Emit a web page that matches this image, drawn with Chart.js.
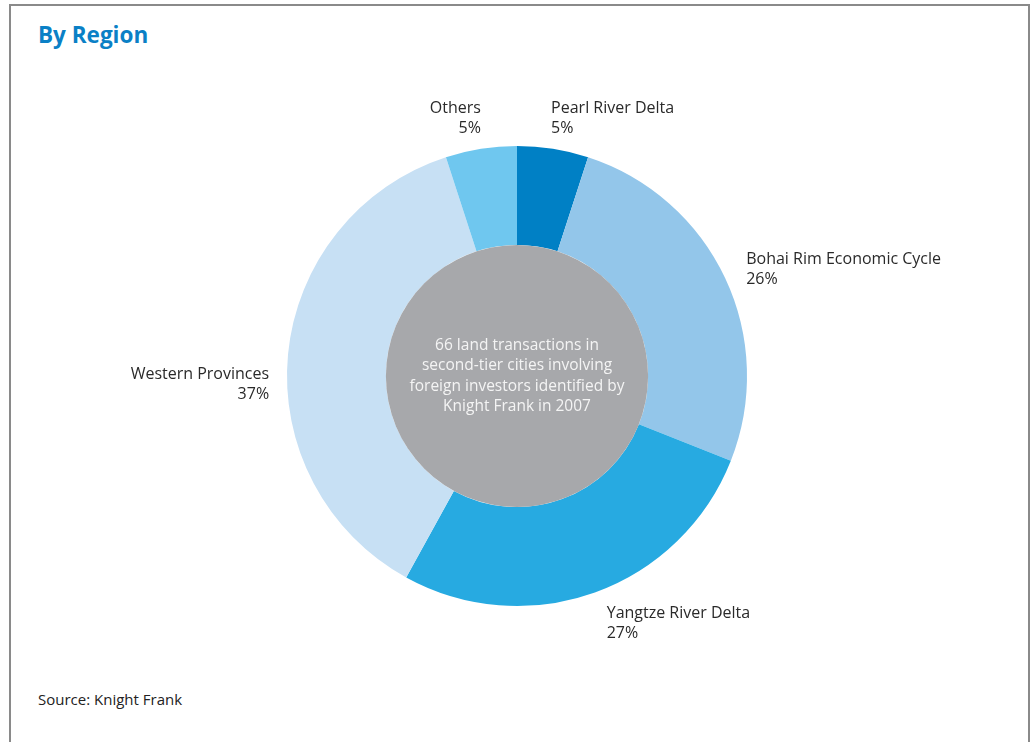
<!DOCTYPE html>
<html>
<head>
<meta charset="utf-8">
<script src="https://cdn.jsdelivr.net/npm/chart.js@4"></script>
<style>
  body { margin: 0; background: #fff; overflow: hidden; }
  #wrap { position: relative; width: 1036px; height: 742px; }
  #frame { position: absolute; left: 9px; top: 4px; width: 1017px; height: 760px;
    border: 2px solid #8a8a8a; border-bottom: none; }
  #title { position: absolute; left: 38px; top: 19px; font: bold 22.5px "Open Sans", sans-serif;
    color: #0a80c6; }
  #source { position: absolute; left: 38px; top: 689px; font: 15px "Open Sans", sans-serif; color: #222; }
  canvas { position: absolute; left: 0; top: 0; }
</style>
</head>
<body>
<div id="wrap">
  <div id="frame"></div>
  <div id="title">By Region</div>
  <div id="source">Source: Knight Frank</div>
  <canvas id="pie" width="1036" height="742"></canvas>
</div>
<script>
let regions = ["Pearl River Delta", "Bohai Rim Economic Cycle", "Yangtze River Delta", "Western Provinces", "Others"];
let shares = [5, 26, 27, 37, 5];
let colours = ["#0080c5", "#93c6ea", "#27aae1", "#c7e0f4", "#6fc7ef"];
let centreText = ["66 land transactions in", "second-tier cities involving", "foreign investors identified by", "Knight Frank in 2007"];

// label nudges (dx, dy) from the slice's outer mid point
let nudge = [[-5, 0], [3, 0], [5, 0], [1, 32], [3, 0]];

let labelPlugin = {
  id: "labels",
  afterDatasetsDraw(chart) {
    let ctx = chart.ctx;
    let arcs = chart.getDatasetMeta(0).data;
    let first = arcs[0];
    // grey disc in the hole
    ctx.save();
    ctx.beginPath();
    ctx.arc(first.x, first.y, first.innerRadius, 0, Math.PI * 2);
    ctx.fillStyle = "#a7a8ab";
    ctx.fill();
    ctx.fillStyle = "#f4f4f4";
    ctx.font = '15.5px "Open Sans", sans-serif';
    ctx.textAlign = "center";
    ctx.textBaseline = "middle";
    centreText.forEach((t, i) => {
      ctx.fillText(t, first.x, first.y - 30.5 + i * 20.5);
    });

    ctx.fillStyle = "#2a2a2a";
    ctx.font = '16px "Open Sans", sans-serif';
    arcs.forEach((a, i) => {
      let mid = (a.startAngle + a.endAngle) / 2;
      let r = a.outerRadius + 20;
      let x = a.x + Math.cos(mid) * r + nudge[i][0];
      let y = a.y + Math.sin(mid) * r + nudge[i][1];
      let right = Math.cos(mid) >= 0;
      ctx.textAlign = right ? "left" : "right";
      let lines = [regions[i], shares[i] + "%"];
      let top;
      let s = Math.sin(mid);
      if (s < -0.7) top = y - 31;
      else if (s > 0.7) top = y - 8;
      else top = y - 20;
      ctx.textBaseline = "middle";
      lines.forEach((l, k) => ctx.fillText(l, x, top + 10 + k * 20));
    });
    ctx.restore();
  }
};

new Chart(document.querySelector("#pie"), {
  type: "doughnut",
  data: {
    labels: regions,
    datasets: [{
      data: shares,
      backgroundColor: colours,
      borderWidth: 0
    }]
  },
  options: {
    responsive: false,
    animation: false,
    cutout: "57%",
    layout: { padding: { left: 287, right: 289, top: 146, bottom: 136 } },
    plugins: {
      legend: { display: false },
      tooltip: { enabled: false }
    }
  },
  plugins: [labelPlugin]
});
</script>
</body>
</html>
